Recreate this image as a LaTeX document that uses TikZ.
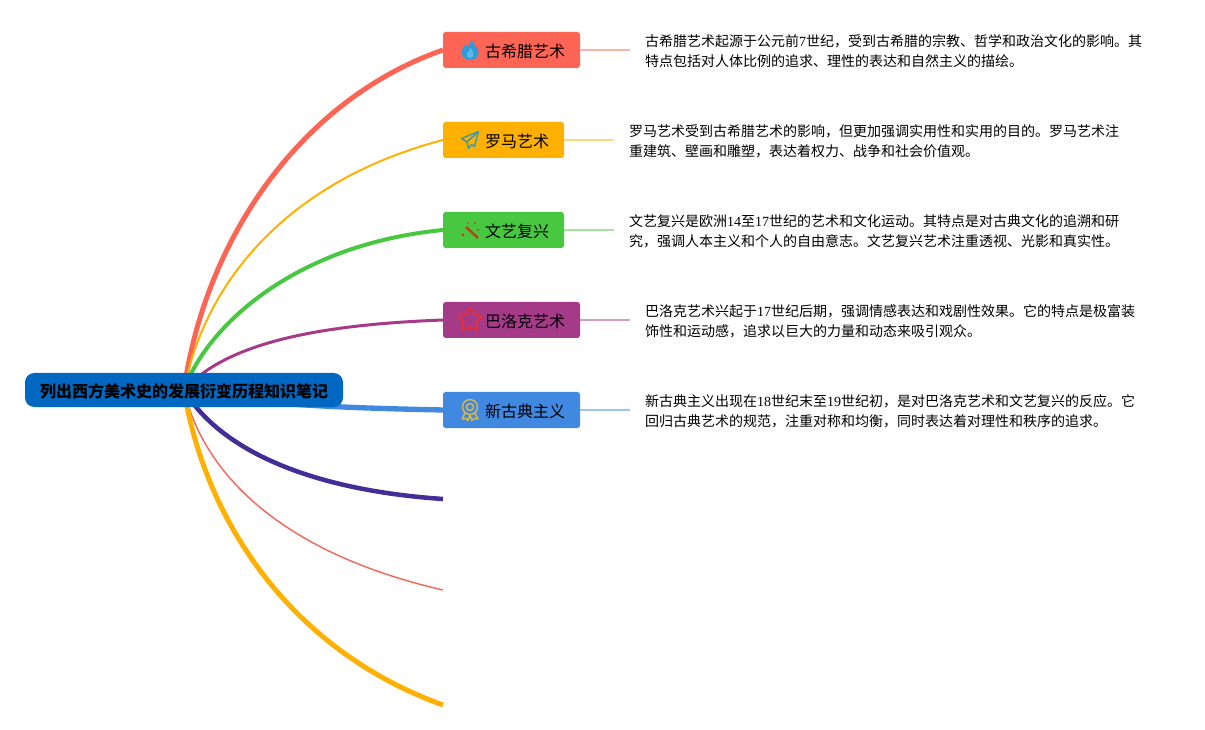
\documentclass[tikz,border=0pt]{standalone}
\usepackage{fontspec}
\setmainfont{Liberation Serif}
\newfontfamily\cjk{Noto Sans CJK SC}
\usetikzlibrary{positioning,backgrounds}
\definecolor{rootblue}{HTML}{0068C0}
\definecolor{greekred}{HTML}{FF6555}
\definecolor{romeamber}{HTML}{FFB000}
\definecolor{renaigreen}{HTML}{48C840}
\definecolor{baroqueplum}{HTML}{A53A88}
\definecolor{neoblue}{HTML}{4088E0}
\definecolor{deeppurple}{HTML}{452D98}
\definecolor{salmonline}{HTML}{ED6A5E}
\definecolor{flameblue}{HTML}{2D9CDB}
\definecolor{flamelight}{HTML}{5DB4E6}
\definecolor{planeteal}{HTML}{3F9AA8}
\definecolor{wandrust}{HTML}{B8431F}
\definecolor{starred}{HTML}{E0303F}
\definecolor{medalgold}{HTML}{D9B84A}
\begin{document}
\begin{tikzpicture}[x=0.75pt,y=-0.75pt,outer sep=0pt,
  root/.style={rectangle,fill=rootblue,rounded corners=7pt,minimum width=238.5pt,minimum height=25.5pt,inner sep=0pt,text height=12pt,text depth=1pt,font=\cjk\bfseries\fontsize{12pt}{14pt}\selectfont},
  topic/.style={rectangle,fill=#1,rounded corners=2pt,minimum height=27pt,inner ysep=0pt,inner xsep=11.25pt,text height=12pt,text depth=1pt,font=\cjk\fontsize{12pt}{14pt}\selectfont},
  descr/.style={inner xsep=0pt,inner ysep=0pt,yshift=-0.9pt,align=left,font=\cjk\fontsize{10.5pt}{15pt}\selectfont},
  branch/.style={line width=#1,line cap=butt},
  stub/.style={line width=1.5pt,draw=#1!50},
  icnflame/.pic={
    \fill[flameblue] (0,10) .. controls (-6,10) and (-8.5,6) .. (-8.5,2) .. controls (-8.5,-2) and (-5,-3) .. (-4,-6) .. controls (-3,-3) and (-2,-3) .. (-1.5,-3) .. controls (-1,-6) and (0,-8) .. (2,-10) .. controls (2,-6) and (8.5,-3) .. (8.5,2) .. controls (8.5,6) and (6,10) .. (0,10) -- cycle;
    \fill[flamelight] (0,8) .. controls (-3,8) and (-4,5) .. (-3,3) .. controls (-2,1) and (0,1) .. (0.5,-2) .. controls (3,1) and (4,3) .. (3.5,5) .. controls (3,7) and (2,8) .. (0,8) -- cycle;},
  icnplane/.pic={
    \draw[planeteal,line width=1.1pt,line join=round] (8.5,-8.5) -- (-8.5,-1.5) -- (-3,2) -- (-1.5,8.5) -- (1.5,4.5) -- (4.5,6.5) -- cycle;
    \draw[planeteal,line width=1.1pt] (8.5,-8.5) -- (-3,2);},
  icnwand/.pic={
    \draw[wandrust,line width=1.9pt] (-4,-3) -- (8,8);
    \fill[wandrust] (5,-7) circle (1.1) (8,0) circle (1.1) (-7,5) circle (1.6) (-2,-7) circle (0.9);},
  icnstar/.pic={
    \draw[starred,line width=1.6pt,line join=round] (-90:12.5) \foreach \a in {-54,-18,...,234} {-- (\a:{mod(\a+90,72)==0?12.5:7})} -- cycle;},
  icnmedal/.pic={
    \draw[medalgold,line width=1.1pt] (0,-3) circle (7.5) (0,-3) circle (3.5);
    \draw[medalgold,line width=1.1pt,line join=round] (-5,3) -- (-8,9) -- (-4,8.5) -- (-2,10.5) -- (0,5) -- (2,10.5) -- (4,8.5) -- (8,9) -- (5,3);}]
\useasboundingbox (0,0) rectangle (1205,730);
\node[root] (title) at (184,390) {列出西方美术史的发展衍变历程知识笔记};
\node[topic=greekred,anchor=west] (greece) at (443,50) {\hspace*{20.25pt}古希腊艺术};
\node[topic=romeamber,below=40.5pt of greece.south west,anchor=north west] (rome) {\hspace*{20.25pt}罗马艺术};
\node[topic=renaigreen,below=40.5pt of rome.south west,anchor=north west] (renai) {\hspace*{20.25pt}文艺复兴};
\node[topic=baroqueplum,below=40.5pt of renai.south west,anchor=north west] (baroque) {\hspace*{20.25pt}巴洛克艺术};
\node[topic=neoblue,below=40.5pt of baroque.south west,anchor=north west] (neo) {\hspace*{20.25pt}新古典主义};
\coordinate (sixth) at (443,499);
\coordinate (seventh) at (443,590);
\coordinate (eighth) at (443,705);
\node[descr,right=37.5pt of greece] (greecetxt) {\hspace*{11.25pt}古希腊艺术起源于公元前\textrm{7}世纪，受到古希腊的宗教、哲学和政治文化的影响。其\\\hspace*{11.25pt}特点包括对人体比例的追求、理性的表达和自然主义的描绘。};
\node[descr,right=37.5pt of rome] (rometxt) {\hspace*{11.25pt}罗马艺术受到古希腊艺术的影响，但更加强调实用性和实用的目的。罗马艺术注\\\hspace*{11.25pt}重建筑、壁画和雕塑，表达着权力、战争和社会价值观。};
\node[descr,right=37.5pt of renai] (renaitxt) {\hspace*{11.25pt}文艺复兴是欧洲\textrm{14}至\textrm{17}世纪的艺术和文化运动。其特点是对古典文化的追溯和研\\\hspace*{11.25pt}究，强调人本主义和个人的自由意志。文艺复兴艺术注重透视、光影和真实性。};
\node[descr,right=37.5pt of baroque] (baroquetxt) {\hspace*{11.25pt}巴洛克艺术兴起于\textrm{17}世纪后期，强调情感表达和戏剧性效果。它的特点是极富装\\\hspace*{11.25pt}饰性和运动感，追求以巨大的力量和动态来吸引观众。};
\node[descr,right=37.5pt of neo] (neotxt) {\hspace*{11.25pt}新古典主义出现在\textrm{18}世纪末至\textrm{19}世纪初，是对巴洛克艺术和文艺复兴的反应。它\\\hspace*{11.25pt}回归古典艺术的规范，注重对称和均衡，同时表达着对理性和秩序的追求。};
\begin{scope}[on background layer]
\draw[branch=3.75pt,greekred] (title.center) .. controls (205,240) and (300,100) .. (greece.west);
\draw[branch=1.5pt,romeamber] (title.center) .. controls (205,280) and (290,180) .. (rome.west);
\draw[branch=3pt,renaigreen] (title.center) .. controls (205,330) and (290,245) .. (renai.west);
\draw[branch=2.25pt,baroqueplum] (title.center) .. controls (225,345) and (310,325) .. (baroque.west);
\draw[branch=4pt,neoblue] (title.center) .. controls (250,405) and (350,408) .. (neo.west);
\draw[branch=3.4pt,deeppurple] (title.center) .. controls (220,450) and (310,490) .. (sixth);
\draw[branch=1.1pt,salmonline] (title.center) .. controls (205,480) and (290,555) .. (seventh);
\draw[branch=3.75pt,romeamber] (title.center) .. controls (205,520) and (290,650) .. (eighth);
\end{scope}
\draw[stub=greekred] (greece.east) -- (greecetxt.west |- greece.east);
\draw[stub=romeamber] (rome.east) -- (rometxt.west |- rome.east);
\draw[stub=renaigreen] (renai.east) -- (renaitxt.west |- renai.east);
\draw[stub=baroqueplum] (baroque.east) -- (baroquetxt.west |- baroque.east);
\draw[stub=neoblue] (neo.east) -- (neotxt.west |- neo.east);
\pic at ([xshift=20.25pt]greece.west) {icnflame};
\pic at ([xshift=20.25pt]rome.west) {icnplane};
\pic at ([xshift=20.25pt]renai.west) {icnwand};
\pic at ([xshift=20.25pt]baroque.west) {icnstar};
\pic at ([xshift=20.25pt]neo.west) {icnmedal};
\end{tikzpicture}
\end{document}
